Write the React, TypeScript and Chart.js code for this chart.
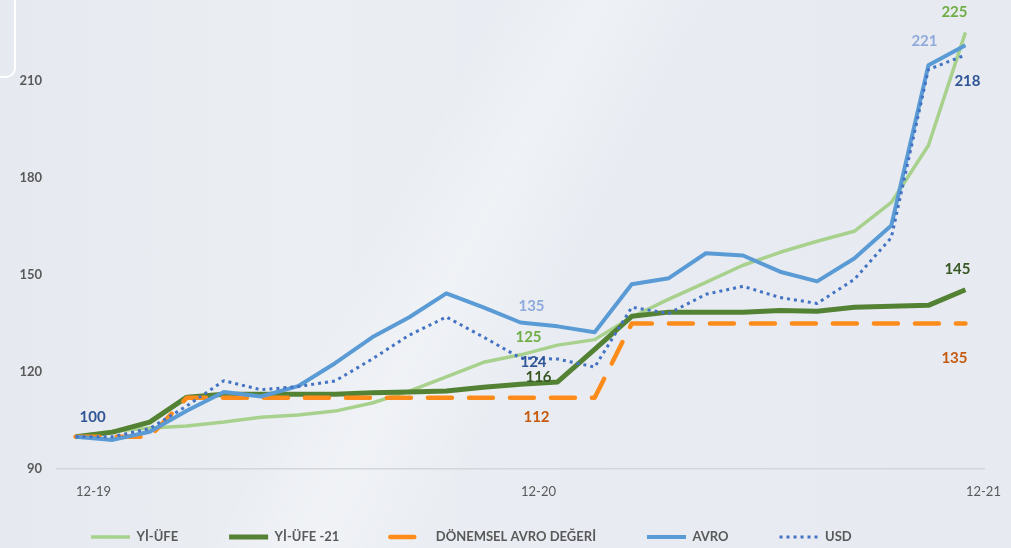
import React, { useEffect, useRef } from 'react';
import { Chart, registerables } from 'chart.js';

Chart.register(...registerables);

// ---- data ----
const categories = [
  '12-19', '01-20', '02-20', '03-20', '04-20', '05-20', '06-20', '07-20', '08-20', '09-20', '10-20', '11-20',
  '12-20', '01-21', '02-21', '03-21', '04-21', '05-21', '06-21', '07-21', '08-21', '09-21', '10-21', '11-21', '12-21',
];
const tickLabels = ['12-19', '12-20', '12-21'];

const yiUfe = [100, 101.7, 102.7, 103.3, 104.5, 106, 106.7, 107.9, 110.4, 114.1, 118.5, 123, 125.3, 128.3, 130, 137, 142.5, 147.7, 153, 157, 160.4, 163.5, 172.4, 190, 225];
const yiUfe21 = [100, 101.4, 104.5, 112.2, 113.1, 113.1, 113.1, 113.1, 113.6, 113.8, 114.1, 115.3, 116.2, 116.9, 127, 137.2, 138.5, 138.5, 138.5, 139, 138.8, 140, 140.3, 140.6, 145.4];
const donemsel = [100, 100, 100, 112, 112, 112, 112, 112, 112, 112, 112, 112, 112, 112, 112, 135, 135, 135, 135, 135, 135, 135, 135, 135, 135];
const avro = [100, 99, 101.5, 108, 113.8, 112.4, 115.6, 122.7, 130.7, 136.9, 144.3, 140, 135.3, 134.1, 132.3, 147.1, 149, 156.7, 156, 151, 148, 155.1, 165.3, 214.8, 221];
const usd = [100, 100, 102.5, 109.5, 117.3, 114.5, 115.5, 117.2, 124, 131.4, 137, 130.8, 124.3, 124, 121.5, 140, 138.1, 144, 146.5, 143, 141.2, 148.6, 161.5, 213.5, 218];

const seriesNames = ['Yİ-ÜFE', 'Yİ-ÜFE -21', 'DÖNEMSEL AVRO DEĞERİ', 'AVRO', 'USD'];

// value labels: dataset index, point index, colour, offset from point
const valueLabels = [
  { ds: 3, i: 0, color: '#2F5597', dx: 17, dy: -19 },
  { ds: 3, i: 12, color: '#8FAADC', dx: 11, dy: -16 },
  { ds: 0, i: 12, color: '#70AD47', dx: 8, dy: -18 },
  { ds: 4, i: 12, color: '#2F5597', dx: 13, dy: 4 },
  { ds: 1, i: 12, color: '#385723', dx: 18, dy: -7 },
  { ds: 2, i: 12, color: '#C55A11', dx: 16, dy: 19 },
  { ds: 1, i: 24, color: '#385723', dx: -8, dy: -21 },
  { ds: 2, i: 24, color: '#C55A11', dx: -11, dy: 35 },
  { ds: 0, i: 24, color: '#70AD47', dx: -11, dy: -20 },
  { ds: 3, i: 24, color: '#8FAADC', dx: -41, dy: -4 },
  { ds: 4, i: 24, color: '#2F5597', dx: 2, dy: 26 },
];

const valueLabelPlugin = {
  id: 'valueLabels',
  afterDatasetsDraw(chart: any) {
    const ctx = chart.ctx;
    ctx.save();
    ctx.font = 'bold 15px Lato';
    ctx.textAlign = 'center';
    ctx.textBaseline = 'middle';
    valueLabels.forEach((l) => {
      const pt = chart.getDatasetMeta(l.ds).data[l.i];
      const v = chart.data.datasets[l.ds].data[l.i] as number;
      ctx.fillStyle = l.color;
      ctx.fillText(String(Math.round(v)), pt.x + l.dx, pt.y + l.dy);
    });
    ctx.restore();
  },
};

const legendPlacePlugin = {
  id: 'legendPlace',
  afterLayout(chart: any) {
    const lg = chart.legend;
    if (!lg) return;
    lg.left = 40;
    lg.right = chart.width;
    lg.top = 479.5;
    lg.bottom = chart.height;
  },
};

export default function App() {
  const ref = useRef<HTMLCanvasElement>(null);

  useEffect(() => {
    const canvas = ref.current;
    if (!canvas) return;
    const common = { pointRadius: 0, pointHoverRadius: 0, tension: 0, fill: false, borderJoinStyle: 'round' as const };
    const chart = new Chart(canvas, {
      type: 'line',
      data: {
        labels: categories,
        datasets: [
          { ...common, label: seriesNames[0], data: yiUfe, borderColor: '#A9D18E', backgroundColor: '#A9D18E', borderWidth: 3.5, order: 5 },
          { ...common, label: seriesNames[1], data: yiUfe21, borderColor: '#548235', backgroundColor: '#548235', borderWidth: 5, order: 4 },
          { ...common, label: seriesNames[2], data: donemsel, borderColor: '#FF8C1A', backgroundColor: '#FF8C1A', borderWidth: 4.5, borderDash: [24, 17], borderCapStyle: 'round', order: 3 },
          { ...common, label: seriesNames[3], data: avro, borderColor: '#5B9BD5', backgroundColor: '#5B9BD5', borderWidth: 4, order: 2 },
          { ...common, label: seriesNames[4], data: usd, borderColor: '#4472C4', backgroundColor: '#4472C4', borderWidth: 3, borderDash: [3, 4], order: 1 },
        ],
      },
      options: {
        animation: false,
        responsive: true,
        maintainAspectRatio: false,
        layout: { padding: { top: 0, right: 27, bottom: 0, left: 0 } },
        scales: {
          x: {
            offset: true,
            grid: { display: false, drawTicks: false },
            border: { display: true, color: '#D3D6DB', width: 1.5 },
            ticks: {
              autoSkip: false,
              maxRotation: 0,
              padding: 15,
              labelOffset: 18,
              color: '#595959',
              font: { family: 'Lato', size: 13 },
              callback: (_v: any, idx: number) => (tickLabels.includes(categories[idx]) ? categories[idx] : ''),
            },
            afterFit: (s: any) => {
              s.height = 49;
              s.paddingLeft = 0;
              s.paddingRight = 0;
            },
          },
          y: {
            min: 90,
            max: 235,
            grid: { display: false, drawTicks: false },
            border: { display: false },
            ticks: {
              stepSize: 30,
              includeBounds: false,
              padding: 15,
              color: '#595959',
              font: { family: 'Lato', size: 13, weight: 'bold' },
            },
            afterFit: (s: any) => {
              s.width = 57;
              s.paddingTop = 0;
              s.paddingBottom = 0;
            },
          },
        },
        plugins: {
          tooltip: { enabled: false },
          legend: {
            position: 'bottom',
            align: 'start',
            maxHeight: 30,
            labels: {
              usePointStyle: true,
              pointStyle: 'line',
              pointStyleWidth: 39,
              padding: 51,
              color: '#595959',
              font: { family: 'Lato', size: 13, weight: 'bold' },
              sort: (a: any, b: any) => a.datasetIndex - b.datasetIndex,
              generateLabels: (ch: any) => {
                const items = (Chart as any).defaults.plugins.legend.labels.generateLabels(ch);
                return items.map((it: any) => {
                  const ds = ch.data.datasets[it.datasetIndex];
                  return {
                    ...it,
                    lineDash: ds.borderDash || [],
                    lineCap: ds.borderCapStyle || 'butt',
                    lineWidth: ds.borderWidth,
                    strokeStyle: ds.borderColor,
                    fillStyle: ds.borderColor,
                    pointStyle: 'line',
                  };
                });
              },
            },
          },
        },
      } as any,
      plugins: [valueLabelPlugin, legendPlacePlugin],
    });
    return () => chart.destroy();
  }, []);

  return (
    <div
      style={{
        position: 'fixed',
        left: 0,
        top: 0,
        width: 1011,
        height: 548,
        overflow: 'hidden',
        background:
          'linear-gradient(118deg, rgba(255,255,255,0) 38%, rgba(255,255,255,0.28) 46%, rgba(255,255,255,0) 55%), linear-gradient(90deg, #E6EAF0 0%, #EBEEF3 30%, #E8ECF2 60%, #E7EBF1 100%)',
      }}
    >
      <div
        style={{
          position: 'absolute',
          left: -40,
          top: -12,
          width: 52,
          height: 86,
          border: '2px solid #FFFFFF',
          borderRadius: 10,
        }}
      />
      <canvas ref={ref} style={{ position: 'absolute', left: 0, top: 0, width: 1011, height: 548 }} />
    </div>
  );
}
